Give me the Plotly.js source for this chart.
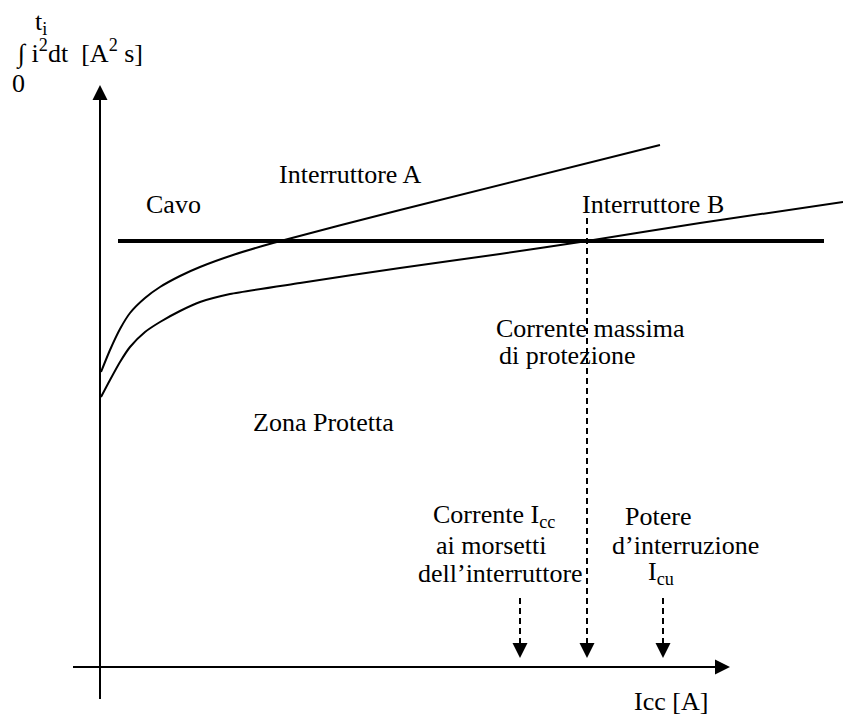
<!DOCTYPE html>
<html>
<head>
<meta charset="utf-8">
<script src="https://cdn.plot.ly/plotly-3.0.1.min.js"></script>
<style>html,body{margin:0;padding:0;background:#fff;}#chart{width:843px;height:715px;}</style>
</head>
<body>
<div id="chart"></div>
<script>
// Values (origin = axis crossing; units arbitrary, schematic)
const icA   = [1, 10, 20, 30, 45, 60, 80, 100, 133, 173, 300, 560];
const i2tA  = [295, 317, 338, 354, 369, 380, 391, 400, 412, 424, 457, 522];
const icB   = [1, 10, 20, 30, 45, 60, 80, 100, 130, 200, 300, 400, 487, 600, 743];
const i2tB  = [270, 287, 305, 320, 335, 345, 356, 365, 373, 384, 399, 413, 426, 444, 465];
const icCavo  = [18, 724];
const i2tCavo = [426, 426];
const icMarks   = [420, 487, 563];     // Icc at terminals, max protection current, Icu
const markTops  = [69, 449, 69];      // top of each dashed line
const markBase  = 24;                 // base of arrow heads
const markTip   = 9;                  // arrow tip
const xAxisSpan = [-27, 630];
const yAxisSpan = [-32, 582];

const black = '#000';
const traces = [];
// axes
traces.push({x: [xAxisSpan[0], xAxisSpan[1] - 10], y: [0, 0], mode: 'lines', line: {color: black, width: 2}, hoverinfo: 'skip'});
traces.push({x: [0, 0], y: [yAxisSpan[0], yAxisSpan[1] - 10], mode: 'lines', line: {color: black, width: 2}, hoverinfo: 'skip'});
traces.push({x: [xAxisSpan[1]], y: [0], mode: 'markers', marker: {symbol: 'arrow-right', size: 15, color: black, line: {width: 0}}, hoverinfo: 'skip'});
traces.push({x: [0], y: [yAxisSpan[1]], mode: 'markers', marker: {symbol: 'arrow-up', size: 15, color: black, line: {width: 0}}, hoverinfo: 'skip'});
// curves
traces.push({x: icA, y: i2tA, mode: 'lines', line: {color: black, width: 2, shape: 'spline', smoothing: 0.6}, name: 'Interruttore A'});
traces.push({x: icB, y: i2tB, mode: 'lines', line: {color: black, width: 2, shape: 'spline', smoothing: 0.6}, name: 'Interruttore B'});
traces.push({x: icCavo, y: i2tCavo, mode: 'lines', line: {color: black, width: 4}, name: 'Cavo'});
// dashed markers
icMarks.forEach((v, i) => {
  traces.push({x: [v, v], y: [markTops[i], markBase], mode: 'lines', line: {color: black, width: 2, dash: '6px,4px'}, hoverinfo: 'skip'});
});
traces.push({x: icMarks, y: icMarks.map(() => markTip), mode: 'markers', marker: {symbol: 'arrow-down', size: 15, color: black, line: {width: 0}}, hoverinfo: 'skip'});

const F = {family: 'Liberation Serif, Times New Roman, serif', size: 26, color: black};
function ann(text, x, y) {
  return {text: text, x: x, y: y, xref: 'x', yref: 'y', showarrow: false, xanchor: 'left', yanchor: 'middle', font: F};
}
const annotations = [
  ann('t<sub>i</sub>', -67, 644),
  ann('\u222B i<sup>2</sup>dt\u00a0\u00a0[A<sup>2</sup> s]', -86, 615),
  ann('0', -90, 584),
  ann('Interruttore A', 177, 493),
  ann('Cavo', 44, 463),
  ann('Interruttore B', 480, 463),
  ann('Corrente massima', 394, 339),
  ann('di protezione', 397, 312),
  ann('Zona Protetta', 151, 245),
  ann('Corrente I<sub>cc</sub>', 331, 151),
  ann('ai morsetti', 334, 122),
  ann('dell\u2019interruttore', 316, 94),
  ann('Potere', 523, 151),
  ann('d\u2019interruzione', 510, 122),
  ann('I<sub>cu</sub>', 546, 94),
  ann('Icc [A]', 532, -34)
];

const layout = {
  width: 843, height: 715,
  margin: {l: 0, r: 0, t: 0, b: 0},
  paper_bgcolor: '#fff', plot_bgcolor: '#fff',
  showlegend: false,
  xaxis: {range: [-100, 743], visible: false, fixedrange: true},
  yaxis: {range: [-48, 667], visible: false, fixedrange: true},
  annotations: annotations
};
Plotly.newPlot('chart', traces, layout, {staticPlot: true});
</script>
</body>
</html>
